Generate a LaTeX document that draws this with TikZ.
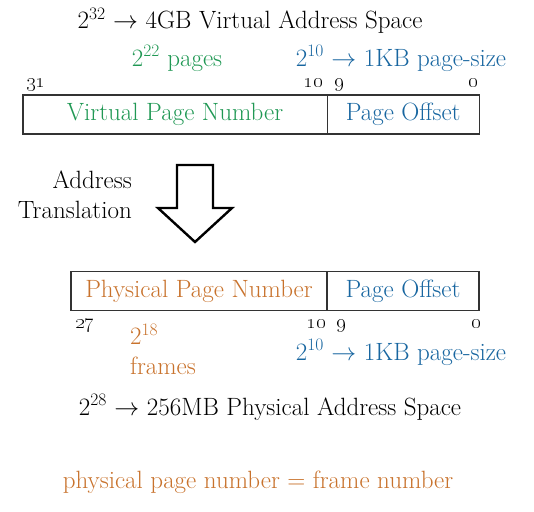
\documentclass[tikz,border=0pt]{standalone}
\usepackage{tikz}
\usetikzlibrary{positioning}
\definecolor{vgreen}{RGB}{32,152,84}
\definecolor{pblue}{RGB}{24,102,160}
\definecolor{porange}{RGB}{200,114,44}
\tikzset{
    txt/.style={font=\fontsize{25}{30}\selectfont, inner sep=0pt, anchor=base},
    bit/.style={font=\fontsize{21}{24}\selectfont, inner sep=0pt, anchor=base},
    field/.style={draw=black!80, line width=1.3pt, minimum height=39pt,
        inner sep=0pt, outer sep=0pt, font=\fontsize{25}{30}\selectfont}
}
\newcommand{\pow}[1]{2\textsuperscript{#1}}

\begin{document}
\begin{tikzpicture}[x=1pt,y=-1pt]
        \useasboundingbox (0,0) rectangle (534,511);

        % virtual address
        \node[txt] (vas) at (250,29) {\pow{32} $\to$ 4GB Virtual Address Space};
        \node[txt, text=vgreen] (vpages) at (177,66) {\pow{22} pages};
        \node[txt, text=pblue] (vsize) at (401,66) {\pow{10} $\to$ 1KB page-size};

        \node[bit] (v31) at (36,87) {\oldstylenums{31}};
        \node[bit] (v10) at (313,87) {\oldstylenums{10}};
        \node[bit] (v9) at (339,87) {\oldstylenums{9}};
        \node[bit] (v0) at (473,87) {\oldstylenums{0}};

        \node[field, text=vgreen, minimum width=304.3pt] (vpn) at (175,114.5) {Virtual Page Number};
        \node[field, text=pblue, minimum width=152pt, right=0pt of vpn] (vpo) {Page Offset};

        % translation
        \draw[line width=2.4pt, line join=miter] (177,165) -- (213,165) -- (213,208) -- (232,208)
            -- (195,242) -- (158,208) -- (177,208) -- cycle;
        \node[txt, align=right, anchor=east] (xlat) at (132,195) {Address\\Translation};

        % physical address
        \node[field, text=porange, minimum width=256pt] (ppn) at (199,291) {Physical Page Number};
        \node[field, text=pblue, minimum width=152pt, right=0pt of ppn] (ppo) {Page Offset};

        \node[bit] (p27) at (85,328) {\oldstylenums{27}};
        \node[bit] (p10) at (316,328) {\oldstylenums{10}};
        \node[bit] (p9) at (341,328) {\oldstylenums{9}};
        \node[bit] (p0) at (476,328) {\oldstylenums{0}};

        \node[txt, text=porange, align=left, anchor=west] (pframes) at (130,349) {\pow{18}\\frames};
        \node[txt, text=pblue] (psize) at (401,360) {\pow{10} $\to$ 1KB page-size};
        \node[txt] (pas) at (270,415) {\pow{28} $\to$ 256MB Physical Address Space};

        \node[txt, text=porange] (note) at (258,488) {physical page number = frame number};
\end{tikzpicture}
\end{document}
